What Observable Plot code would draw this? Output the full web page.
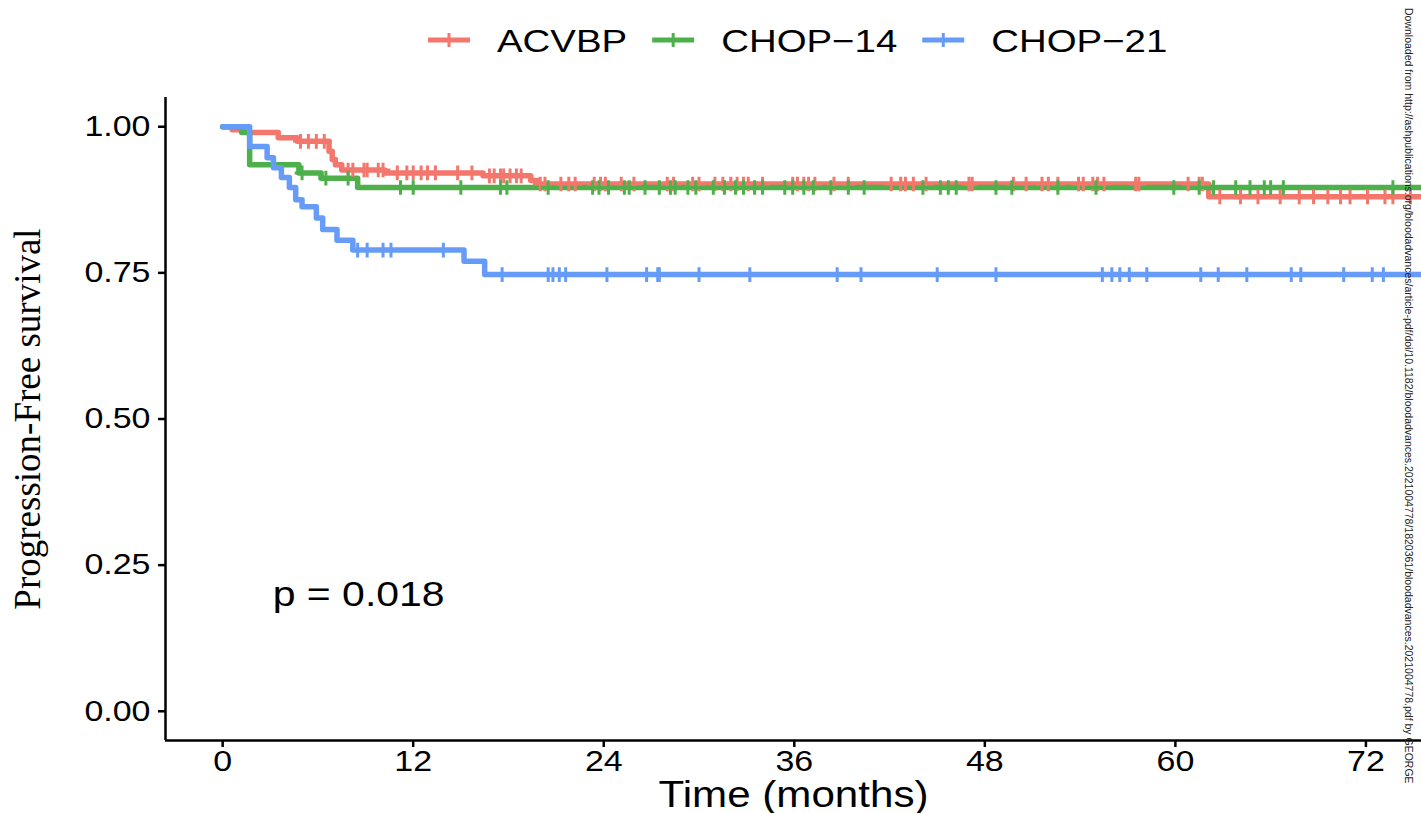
<!DOCTYPE html>
<html>
<head>
<meta charset="utf-8">
<script src="https://cdn.jsdelivr.net/npm/d3@7"></script>
<script src="https://cdn.jsdelivr.net/npm/@observablehq/plot@0.6"></script>
<style>
  html, body { margin: 0; padding: 0; background: white; }
  body { width: 1421px; height: 813px; overflow: hidden; position: relative; font-family: "Liberation Sans", Arial, sans-serif; }
  #legend { display: block; }
  #wm { position: absolute; left: 1385px; top: 0; }
</style>
</head>
<body>
<svg id="legend" width="1421" height="78"></svg>
<div id="chart"></div>
<svg id="wm" width="36" height="813"></svg>
<script>
// ---------- data ----------
const groups = ["ACVBP", "CHOP-14", "CHOP-21"];
const groupLabels = ["ACVBP", "CHOP\u221214", "CHOP\u221221"];
const colors = ["#F3776C", "#4DB04A", "#669CF8"];

// Kaplan-Meier step points (time in months, survival probability)
const acvbpTimes = [0, 0.6, 1.6, 3.5, 4.7, 6.7, 6.9, 7.1, 7.5, 10.2, 16.4, 19.4, 19.9, 62.1, 76];
const acvbpSurv  = [1, 0.995, 0.99, 0.981, 0.975, 0.958, 0.944, 0.935, 0.926, 0.921, 0.916, 0.908, 0.902, 0.88, 0.88];

const chop14Times = [0, 1.2, 1.7, 4.8, 6.2, 8.5, 76];
const chop14Surv  = [1, 0.99, 0.935, 0.921, 0.912, 0.896, 0.896];

const chop21Times = [0, 1.7, 2.8, 3.2, 3.7, 4.2, 4.6, 5.0, 5.9, 6.3, 7.2, 8.2, 15.2, 16.5, 76];
const chop21Surv  = [1, 0.966, 0.947, 0.93, 0.913, 0.896, 0.875, 0.863, 0.844, 0.824, 0.806, 0.789, 0.77, 0.747, 0.747];

// censoring times (months)
const acvbpCensor = [4.9, 5.4, 5.9, 6.4, 7.9, 8.2, 8.9, 9.1, 9.8, 10.1, 11.0, 11.6, 12.0, 12.5, 12.9, 13.4, 14.8, 15.7,
  16.8, 17.1, 17.5, 17.7, 18.1, 18.5, 18.8, 20.0, 20.3, 21.3, 21.8, 22.2, 23.4, 23.8, 24.1, 25.1, 25.9, 28.0, 28.4,
  29.6, 30.0, 31.0, 31.5, 32.0, 32.4, 32.8, 33.1, 34.0, 35.9, 36.2, 36.6, 36.9, 37.3, 38.5, 39.4, 42.1, 42.7, 43.0,
  43.5, 44.3, 47.0, 47.2, 49.8, 50.6, 51.6, 52.0, 52.6, 53.9, 54.2, 54.8, 55.1, 55.5, 57.5, 57.7, 60.8, 61.5, 61.7,
  62.8, 64.1, 65.2, 66.6, 67.8, 68.7, 69.6, 70.4, 71.0, 72.1, 73.2, 73.7, 74.8];
const chop14Censor = [5.0, 6.5, 7.9, 11.2, 12.0, 15.0, 17.5, 17.9, 20.5, 23.3, 23.7, 24.3, 25.3, 25.6, 26.6, 27.5, 28.2,
  28.5, 29.3, 29.8, 30.9, 31.6, 32.3, 32.8, 33.5, 34.0, 35.4, 35.9, 36.6, 37.2, 38.3, 39.4, 40.4, 44.1, 45.2, 45.7,
  46.2, 48.7, 49.7, 52.6, 55.0, 59.9, 61.5, 62.4, 63.8, 64.7, 65.6, 66.0, 66.8, 73.7];
const chop21Censor = [8.5, 9.1, 10.1, 10.6, 13.9, 17.6, 20.5, 20.8, 21.2, 21.6, 24.2, 26.7, 27.4, 27.5, 30.0, 33.2, 38.7,
  40.2, 45.0, 48.7, 55.4, 56.0, 56.5, 57.1, 58.2, 61.6, 62.7, 64.5, 67.3, 67.9, 70.6, 72.4, 73.1];

const xTicks = [0, 12, 24, 36, 48, 60, 72];
const yTicks = [0, 0.25, 0.5, 0.75, 1];
const pValueText = "p = 0.018";
const xTitle = "Time (months)";
const yTitle = "Progression-Free survival";
const watermark = "Downloaded from http://ashpublications.org/bloodadvances/article-pdf/doi/10.1182/bloodadvances.2021004778/1820361/bloodadvances.2021004778.pdf by GEORGE";

// ---------- build tables ----------
const curveData = [
  [acvbpTimes, acvbpSurv, acvbpCensor],
  [chop14Times, chop14Surv, chop14Censor],
  [chop21Times, chop21Surv, chop21Censor]
];
function survAt(times, surv, t) {
  let v = surv[0];
  for (let i = 0; i < times.length; i++) if (times[i] <= t) v = surv[i];
  return v;
}
const lineRows = [], censorRows = [];
groups.forEach((g, k) => {
  const [ts, ss, cs] = curveData[k];
  ts.forEach((t, i) => lineRows.push({group: g, time: t, surv: ss[i]}));
  cs.forEach(t => censorRows.push({group: g, time: t, surv: survAt(ts, ss, t)}));
});

const xDomain = [-3.6, 75.5];
const yDomain = [-0.05, 1.05];
const sans = "'Liberation Sans', Arial, Helvetica, sans-serif";
const STRETCH = 1.17;

const plot = Plot.plot({
  width: 1421,
  height: 735,
  marginLeft: 165,
  marginRight: 0,
  marginTop: 19,
  marginBottom: 73,
  style: {fontSize: "29px", fontFamily: sans, color: "black", background: "white", overflow: "visible"},
  x: {domain: xDomain},
  y: {domain: yDomain},
  color: {domain: groups, range: colors},
  marks: [
    Plot.line(lineRows, {x: "time", y: "surv", z: "group", stroke: "group", curve: "step-after", strokeWidth: 5.5, clip: true}),
    Plot.dot(censorRows, {x: "time", y: "surv", stroke: "group", symbol: "plus", r: 4.8, strokeWidth: 3, clip: true}),
    Plot.ruleY([yDomain[0]], {stroke: "black", strokeWidth: 2.5}),
    Plot.ruleX([xDomain[0]], {stroke: "black", strokeWidth: 2.5}),
    Plot.axisX({ticks: xTicks, tickSize: 7, tickPadding: 3, strokeWidth: 2.5, label: null, tickFormat: d3.format("d")}),
    Plot.axisY({ticks: yTicks, tickSize: 7, tickPadding: 8, strokeWidth: 2.5, label: null, tickFormat: d3.format(".2f")}),
    Plot.text([pValueText], {x: [3.15], y: [0.2], text: d => d, textAnchor: "start", lineAnchor: "middle", fontSize: 35, fill: "black"}),
    Plot.text([xTitle], {frameAnchor: "bottom", dy: 55, lineAnchor: "middle", textAnchor: "middle", fontSize: 36, fill: "black"}),
    Plot.text([yTitle], {frameAnchor: "left", dx: -137, rotate: -90, textAnchor: "middle", lineAnchor: "middle",
      fontSize: 37, fontFamily: "'Liberation Serif', 'Times New Roman', serif", fill: "black"})
  ]
});
document.getElementById("chart").append(plot);

function stretch(el, k) {
  const len = el.getComputedTextLength();
  el.setAttribute("textLength", len * k);
  el.setAttribute("lengthAdjust", "spacingAndGlyphs");
  return len * k;
}
plot.querySelectorAll("text").forEach(t => {
  const ff = getComputedStyle(t).fontFamily;
  if (/Serif|Times|serif/.test(ff) && !/Sans/.test(ff)) return;
  stretch(t, STRETCH);
});

// ---------- legend ----------
const leg = d3.select("#legend");
let xPos = 428;
groups.forEach((g, k) => {
  const item = leg.append("g");
  item.append("line").attr("x1", xPos).attr("x2", xPos + 42).attr("y1", 40).attr("y2", 40)
    .attr("stroke", colors[k]).attr("stroke-width", 5);
  item.append("line").attr("x1", xPos + 21).attr("x2", xPos + 21).attr("y1", 33).attr("y2", 47)
    .attr("stroke", colors[k]).attr("stroke-width", 3);
  const txt = item.append("text").attr("x", xPos + 69).attr("y", 40).attr("dy", "0.36em")
    .attr("font-family", sans).attr("font-size", 32).attr("fill", "black").text(groupLabels[k]);
  const w = stretch(txt.node(), 1.2);
  xPos = xPos + 69 + w + 25;
});

// ---------- watermark ----------
const wm = d3.select("#wm");
const wt = wm.append("text").attr("transform", "translate(20,8) rotate(90)")
  .attr("font-family", "'Liberation Sans Narrow', 'Liberation Sans', Arial, sans-serif")
  .attr("font-size", 10.5).attr("fill", "#222")
  .text(watermark);
const natural = wt.node().getComputedTextLength();
wt.attr("textLength", Math.min(792, Math.max(natural, 700))).attr("lengthAdjust", "spacingAndGlyphs");
</script>
</body>
</html>
